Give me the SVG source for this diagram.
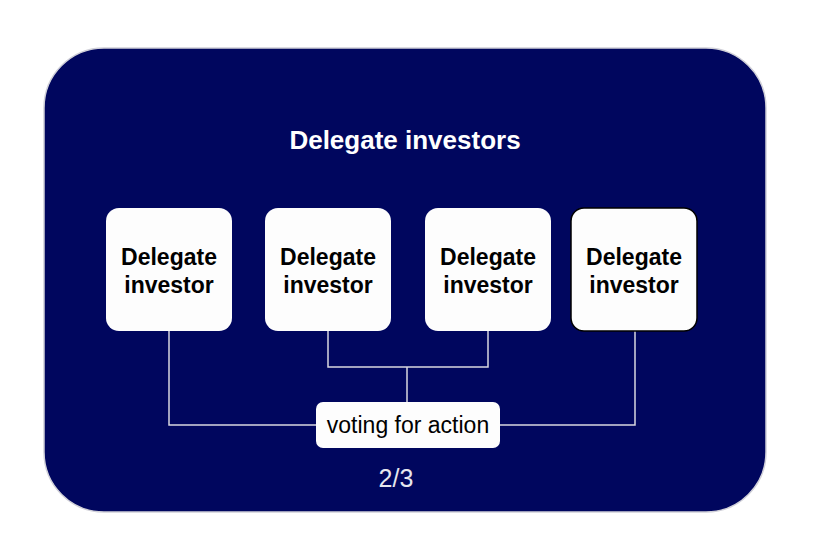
<svg xmlns="http://www.w3.org/2000/svg" width="824" height="534" viewBox="0 0 824 534">
<style>
.node{fill:#fdfdfd}
.nt{font-family:"Liberation Sans",Arial,sans-serif;font-weight:bold;font-size:23px;fill:#000;text-anchor:middle}
.conn{fill:none;stroke:#d8d8e0;stroke-width:1.5}
</style>
<rect width="824" height="534" fill="#fff"/>
<g id="container">
<rect x="44" y="48" width="722" height="464" rx="60" fill="#00065e" stroke="#d0d0d8" stroke-width="1.5"/>
<text x="405" y="149" font-family="Liberation Sans,Arial,sans-serif" font-weight="bold" font-size="26" fill="#fff" text-anchor="middle">Delegate investors</text>
<text x="396" y="487" font-family="Liberation Sans,Arial,sans-serif" font-size="25" fill="#e6e6ee" text-anchor="middle">2/3</text>
</g>
<g id="connectors">
<path class="conn" d="M169 331V425H316"/>
<path class="conn" d="M635 331V425H500"/>
<path class="conn" d="M328 331V367H488V331"/>
<path class="conn" d="M407 367V402"/>
</g>
<g id="n1"><rect class="node" x="106" y="208" width="126" height="123" rx="13"/><text class="nt" x="169" y="265">Delegate</text><text class="nt" x="169" y="293">investor</text></g>
<g id="n2"><rect class="node" x="265" y="208" width="126" height="123" rx="13"/><text class="nt" x="328" y="265">Delegate</text><text class="nt" x="328" y="293">investor</text></g>
<g id="n3"><rect class="node" x="425" y="208" width="126" height="123" rx="13"/><text class="nt" x="488" y="265">Delegate</text><text class="nt" x="488" y="293">investor</text></g>
<g id="n4"><rect class="node" x="571" y="208" width="126" height="123" rx="13" stroke="#000" stroke-width="1.5"/><text class="nt" x="634" y="265">Delegate</text><text class="nt" x="634" y="293">investor</text></g>
<g id="vote"><rect class="node" x="316" y="402" width="184" height="46" rx="7"/><text x="408" y="433" font-family="Liberation Sans,Arial,sans-serif" font-size="23" fill="#000" text-anchor="middle">voting for action</text></g>
</svg>
